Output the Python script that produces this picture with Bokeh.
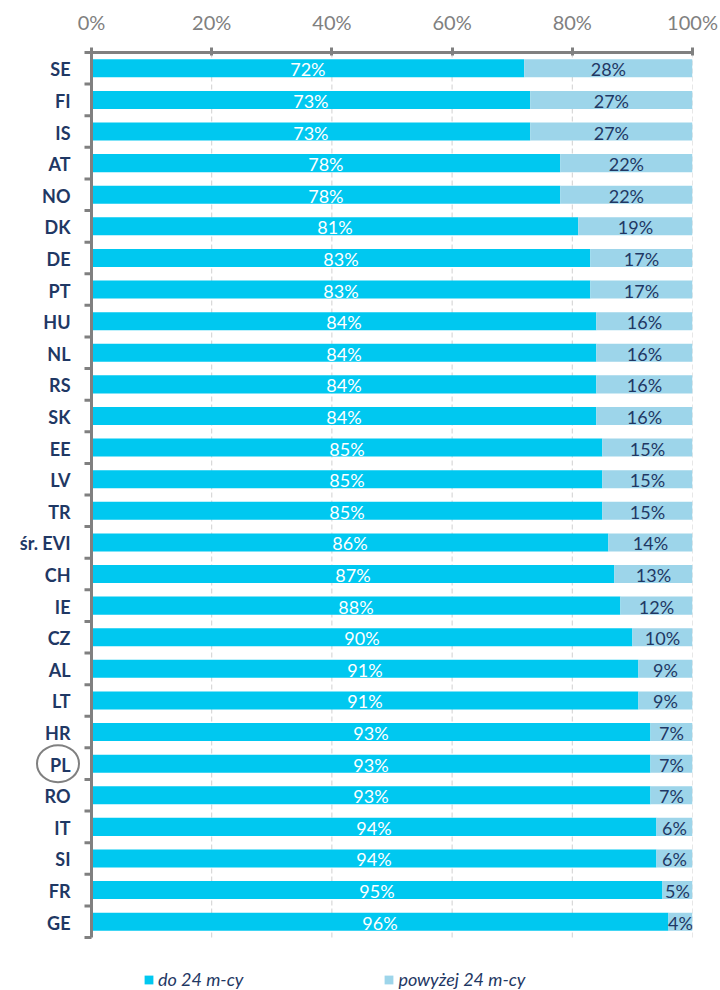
from bokeh.plotting import figure
from bokeh.models import FixedTicker, PrintfTickFormatter, Legend, LegendItem, ColumnDataSource, Range1d
from bokeh.core.properties import value
from bokeh.embed import file_html
from bokeh.resources import INLINE

countries = ["SE", "FI", "IS", "AT", "NO", "DK", "DE", "PT", "HU", "NL", "RS", "SK", "EE", "LV",
             "TR", "śr. EVI", "CH", "IE", "CZ", "AL", "LT", "HR", "PL", "RO", "IT", "SI", "FR", "GE"]
up_to_24 = [72, 73, 73, 78, 78, 81, 83, 83, 84, 84, 84, 84, 85, 85,
            85, 86, 87, 88, 90, 91, 91, 93, 93, 93, 94, 94, 95, 96]
over_24 = [28, 27, 27, 22, 22, 19, 17, 17, 16, 16, 16, 16, 15, 15,
           15, 14, 13, 12, 10, 9, 9, 7, 7, 7, 6, 6, 5, 4]
x_ticks = [0, 20, 40, 60, 80, 100]
series_names = ["do 24 m-cy", "powyżej 24 m-cy"]
highlight = "PL"

C1 = "#00C8F0"
C2 = "#9DD5EA"
NAVY = "#1F3864"
GRAY = "#808080"
GRID = "#D0D0D0"
FONT = "Lato"

# layout (pixels)
W, H = 720, 990
LEFT_PX = 91          # space for the category labels, left of the 0% line
PLOT_W = 601          # 0%..100%
TOP_PX = 50           # axis panel height
ROWS_H = 885          # height of the rows block
BOTTOM_PX = H - TOP_PX - 2 - ROWS_H   # space below rows (legend)
TICK_PX = 7

n = len(countries)
ys = [n - 1 - i for i in range(n)]
upx = PLOT_W / 100.0          # px per x unit
upy = ROWS_H / n              # px per row
x0 = -LEFT_PX / upx
y_top = n - 0.5 + 2 / upy
y_bot = -0.5 - BOTTOM_PX / upy

src = ColumnDataSource(dict(
    y=ys,
    name=list(countries),
    a_end=up_to_24,
    b_end=[a + b for a, b in zip(up_to_24, over_24)],
    a_mid=[a / 2 for a in up_to_24],
    b_mid=[a + b / 2 for a, b in zip(up_to_24, over_24)],
    a_lab=[f"{a}%" for a in up_to_24],
    b_lab=[f"{b}%" for b in over_24],
))

p = figure(width=W, height=H, x_range=Range1d(x0, 100), y_range=Range1d(y_bot, y_top),
           x_axis_location="above", output_backend="svg", toolbar_location=None,
           min_border_left=0, min_border_right=W - LEFT_PX - PLOT_W, min_border_top=TOP_PX,
           min_border_bottom=0)
p.outline_line_color = None
p.yaxis.visible = False
p.xgrid.grid_line_color = None
p.ygrid.grid_line_color = None

# dashed vertical grid lines, only over the rows
gx = x_ticks[1:]
p.segment(x0=gx, y0=[-0.5] * len(gx), x1=gx, y1=[n - 0.5] * len(gx),
          line_color=GRID, line_width=1, line_dash="5 3")

r1 = p.hbar(y="y", left=0, right="a_end", height=0.57, fill_color=C1, line_color=None, source=src)
r2 = p.hbar(y="y", left="a_end", right="b_end", height=0.57, fill_color=C2, line_color=None, source=src)

p.text(x="a_mid", y="y", text="a_lab", source=src, text_align="center", text_baseline="middle",
       text_color="white", text_font=value(FONT), text_font_size="18px", y_offset=1)
p.text(x="b_mid", y="y", text="b_lab", source=src, text_align="center", text_baseline="middle",
       text_color=NAVY, text_font=value(FONT), text_font_size="18px", y_offset=1)

# left axis: line, ticks between categories, labels
bounds = [k - 0.5 for k in range(n + 1)]
p.segment(x0=[0], y0=[-0.5], x1=[0], y1=[n - 0.5], line_color=GRAY, line_width=3)
p.segment(x0=[0] * len(bounds), y0=bounds, x1=[-TICK_PX / upx] * len(bounds), y1=bounds,
          line_color=GRAY, line_width=3)
p.segment(x0=[0], y0=[n - 0.5], x1=[100], y1=[n - 0.5], line_color=GRAY, line_width=3)
p.text(x=-(TICK_PX + 14) / upx, y="y", text="name", source=src, text_align="right",
       text_baseline="middle", text_color=NAVY, text_font=value(FONT), text_font_style="bold",
       text_font_size="18px", y_offset=1)

# highlight circle around the PL label
hy = ys[countries.index(highlight)]
p.ellipse(x=[-33.5 / upx], y=[hy], width=[42], height=[37], width_units="screen",
          height_units="screen", fill_color=None, line_color=GRAY, line_width=2)

# x axis (top)
xa = p.xaxis[0]
xa.ticker = FixedTicker(ticks=x_ticks)
xa.formatter = PrintfTickFormatter(format="%d%%")
xa.axis_line_color = None
xa.major_tick_line_color = GRAY
xa.major_tick_line_width = 3
xa.major_tick_in = 5
xa.major_tick_out = 3
xa.minor_tick_line_color = None
xa.major_label_text_color = GRAY
xa.major_label_text_font = FONT
xa.major_label_text_font_size = "20px"
xa.major_label_standoff = 14

legend = Legend(items=[LegendItem(label=series_names[0], renderers=[r1]),
                       LegendItem(label=series_names[1], renderers=[r2])],
                orientation="horizontal", location=(143, 0), spacing=140,
                label_text_font=FONT, label_text_font_style="italic", label_text_color=NAVY,
                label_text_font_size="18px", glyph_width=11, glyph_height=11, label_standoff=4,
                border_line_color=None, background_fill_alpha=0, padding=0, margin=0)
p.add_layout(legend, "center")

open("out.html", "w").write(file_html(p, INLINE))
